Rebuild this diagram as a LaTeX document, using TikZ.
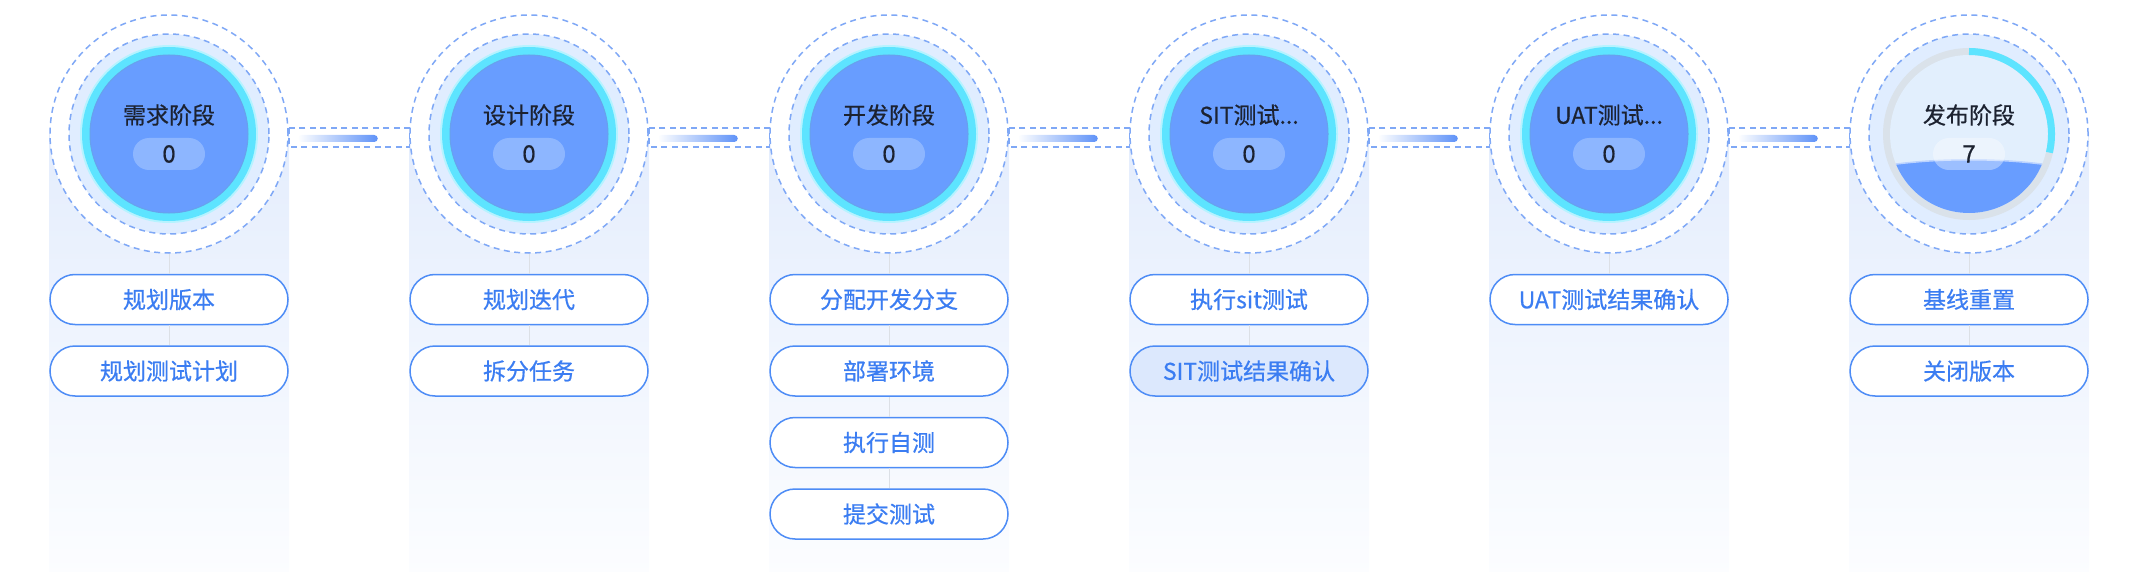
\documentclass[tikz,border=0pt]{standalone}
\usepackage{fontspec}
\setmainfont{Noto Sans CJK SC}[FakeBold=0.6, AutoFakeBold=0.6]
\usepackage{tikz}
\usetikzlibrary{positioning}
\definecolor{stageblue}{HTML}{689DFF}
\definecolor{ringcyan}{HTML}{5DE4FF}
\definecolor{dashblue}{HTML}{7FA8F6}
\definecolor{haloblue}{HTML}{E0EDFF}
\definecolor{countblue}{HTML}{8DB6FF}
\definecolor{barblue}{HTML}{5E92F8}
\definecolor{pillline}{HTML}{4D8CF6}
\definecolor{pilltext}{HTML}{3B7DF2}
\definecolor{colbg}{HTML}{E4EDFD}
\definecolor{stemgray}{HTML}{DCE0E6}
\definecolor{titleink}{HTML}{1C2230}
\definecolor{gaugegray}{HTML}{DAE2EA}
\definecolor{gaugefill}{HTML}{E2EFFD}
\definecolor{donefill}{HTML}{DCE8FD}

\tikzset{
    dashring/.style={draw=dashblue, line width=1.5pt, dash pattern=on 6pt off 4.5pt},
    stage/.style={circle, minimum size=238pt, inner sep=0pt, fill=white, dashring},
    title/.style={text=titleink, font=\fontsize{23}{28}\selectfont\bfseries},
    count/.style={rounded corners=16pt, minimum width=72pt, minimum height=32pt, inner sep=0pt, fill=countblue, text=titleink, font=\fontsize{24}{28}\selectfont},
    task/.style={draw=pillline, line width=1.5pt, fill=white, rounded corners=25pt, minimum width=238pt, minimum height=50pt, inner sep=0pt, text=pilltext, font=\fontsize{23}{28}\selectfont\bfseries},
    stem/.style={stemgray, line width=1pt},
}

\begin{document}
\begin{tikzpicture}[x=1pt, y=-1pt]
    \useasboundingbox (0,0) rectangle (2135,572);

    % Draw the column backgrounds
    \foreach \i in {1,...,6} \shade[top color=colbg, bottom color=colbg!12] ({49+360*(\i-1)},134) rectangle ({289+360*(\i-1)},572);

    % Stage circles
    \foreach \i in {1,...,6} {
        \node[stage] (s\i) at ({169+360*(\i-1)},134) {};
        \filldraw[fill=haloblue, dashring] (s\i.center) circle (100pt);
    }
    \foreach \i in {1,...,5} {
        \fill[ringcyan!45] (s\i.center) circle (89pt);
        \fill[ringcyan] (s\i.center) circle (87pt);
        \filldraw[fill=stageblue, draw=stageblue!75!violet!60!ringcyan, line width=1pt] (s\i.center) circle (79pt);
    }

    % Release stage as a gauge
    \fill[gaugegray] (s6.center) circle (86pt);
    \fill[gaugefill] (s6.center) circle (79pt);
    \draw[ringcyan, line width=7pt] ([shift={(90:82.5pt)}]s6.center) arc[start angle=90, end angle=-13, radius=82.5pt];
    \begin{scope}
        \clip (s6.center) circle (79pt);
        \fill[stageblue] ([shift={(-80pt,-31pt)}]s6.center) .. controls ([shift={(-30pt,-24pt)}]s6.center) and ([shift={(30pt,-24pt)}]s6.center) .. ([shift={(80pt,-31pt)}]s6.center) -- ([shift={(80pt,-90pt)}]s6.center) -- ([shift={(-80pt,-90pt)}]s6.center) -- cycle;
        \draw[stageblue!45, line width=1.5pt] ([shift={(-80pt,-31pt)}]s6.center) .. controls ([shift={(-30pt,-24pt)}]s6.center) and ([shift={(30pt,-24pt)}]s6.center) .. ([shift={(80pt,-31pt)}]s6.center);
    \end{scope}

    % Titles and counts
    \node[title] (t1) at ([yshift=19pt]s1.center) {需求阶段};
    \node[title] (t2) at ([yshift=19pt]s2.center) {设计阶段};
    \node[title] (t3) at ([yshift=19pt]s3.center) {开发阶段};
    \node[title] (t4) at ([yshift=19pt]s4.center) {SIT测试...};
    \node[title] (t5) at ([yshift=19pt]s5.center) {UAT测试...};
    \node[title] (t6) at ([yshift=19pt]s6.center) {发布阶段};
    \foreach \i/\n in {1/0,2/0,3/0,4/0,5/0} \node[count] (n\i) at ([yshift=-20pt]s\i.center) {\n};
    \node[count, fill=white, fill opacity=0.35, text opacity=1] (n6) at ([yshift=-20pt]s6.center) {7};

    % Links between stages
    \foreach \i/\j in {1/2,2/3,3/4,4/5,5/6} {
        \draw[dashring] ([yshift=6pt]s\i.east) rectangle ([yshift=-13pt]s\j.west);
        \shade[left color=white, right color=barblue, rounded corners=3.5pt] ([shift={(9pt,-1pt)}]s\i.east) rectangle ([shift={(89pt,-8pt)}]s\i.east);
    }

    % Tasks of each stage
    \node[task, below=20pt of s1] (a1) {规划版本};
    \node[task, below=20pt of a1] (a2) {规划测试计划};
    \node[task, below=20pt of s2] (b1) {规划迭代};
    \node[task, below=20pt of b1] (b2) {拆分任务};
    \node[task, below=20pt of s3] (c1) {分配开发分支};
    \node[task, below=20pt of c1] (c2) {部署环境};
    \node[task, below=20pt of c2] (c3) {执行自测};
    \node[task, below=20pt of c3] (c4) {提交测试};
    \node[task, below=20pt of s4] (d1) {执行sit测试};
    \node[task, below=20pt of d1, fill=donefill] (d2) {SIT测试结果确认};
    \node[task, below=20pt of s5] (e1) {UAT测试结果确认};
    \node[task, below=20pt of s6] (f1) {基线重置};
    \node[task, below=20pt of f1] (f2) {关闭版本};

    % Stems
    \draw[stem] (s1) -- (a1) -- (a2);
    \draw[stem] (s2) -- (b1) -- (b2);
    \draw[stem] (s3) -- (c1) -- (c2) -- (c3) -- (c4);
    \draw[stem] (s4) -- (d1) -- (d2);
    \draw[stem] (s5) -- (e1);
    \draw[stem] (s6) -- (f1) -- (f2);
\end{tikzpicture}
\end{document}
